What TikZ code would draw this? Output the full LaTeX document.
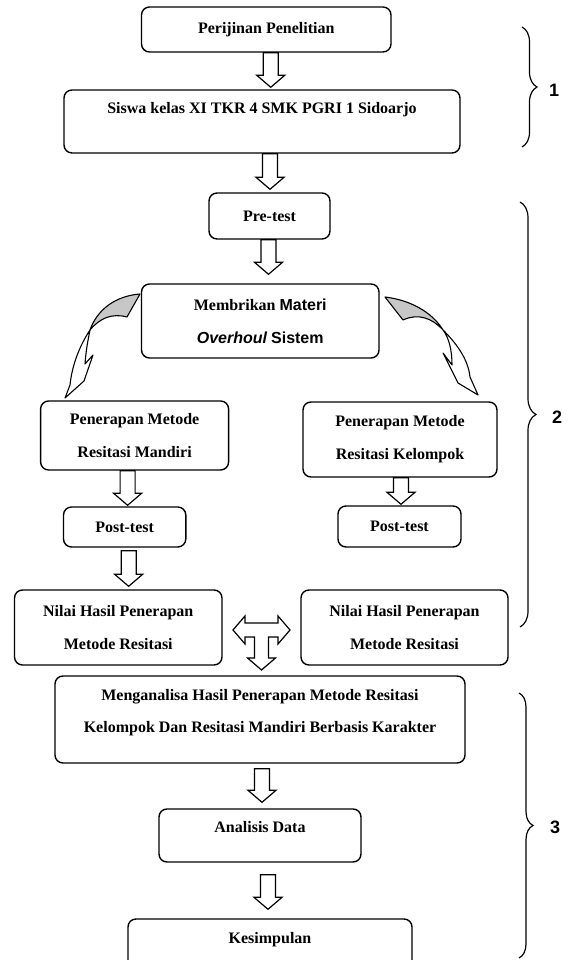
\documentclass[tikz,border=0pt]{standalone}
\usepackage{fontspec}
\setmainfont{Liberation Serif}
\newfontfamily\arialf{Liberation Sans}
\usetikzlibrary{calc,decorations.pathreplacing}
\tikzset{
  box/.style={draw, line width=1.4pt, rounded corners=8pt, inner sep=0pt, align=center,
    fill=white, font=\fontsize{16}{33}\selectfont\bfseries},
  wh/.style 2 args={minimum width=#1pt, minimum height=#2pt},
  lbl/.style={font=\fontsize{16}{32}\selectfont\bfseries, align=center, inner sep=0pt},
  barrow/.style={draw, line width=1.2pt, fill=white, line join=miter},
  curvwhite/.style={draw, line width=1.1pt, fill=white, line join=round},
  curvgray/.style={draw, line width=1.1pt, fill=black!22, line join=round},
  bracestyle/.style={draw, line width=1.2pt, decorate, decoration={brace, amplitude=#1pt, aspect=0.5}},
  numlbl/.style={font=\arialf\bfseries\fontsize{18}{18}\selectfont, inner sep=0pt}
}
\newcommand\blockarrow[2]{%
  \draw[barrow] ($#1+(-7.5,0)$) -- ($#2+(-7.5,12)$) -- ($#2+(-14,12)$) -- #2
    -- ($#2+(14,12)$) -- ($#2+(7.5,12)$) -- ($#1+(7.5,0)$) -- cycle;}
\begin{document}
\begin{tikzpicture}[x=1pt,y=1pt]
\useasboundingbox (0,0) rectangle (569,960);
\fill[white] (0,0) rectangle (569,960);
\clip (0,0) rectangle (569,960);

% boxes
\node[box, wh={249.5}{45}] (perij) at (266.25,930.5) {Perijinan Penelitian};
\node[box, wh={396}{63}, label={[lbl, anchor=north, yshift=-13pt]north:Siswa kelas XI TKR 4 SMK PGRI 1 Sidoarjo}] (siswa) at (262,838.5) {};
\node[box, wh={121}{46}] (pre) at (269.5,744) {Pre-test};
\node[box, wh={237.5}{74}] (memb) at (260.25,639) {Membrikan {\arialf Materi}\\{\arialf\itshape Overhoul} {\arialf Sistem}};
\node[box, wh={188}{69}] (mand) at (134.6,524.5) {Penerapan Metode\\Resitasi Mandiri};
\node[box, wh={194}{75}] (kel) at (400,520.5) {Penerapan Metode\\Resitasi Kelompok};
\node[box, wh={122.3}{40}] (postL) at (124.65,433) {Post-test};
\node[box, wh={123}{41}] (postR) at (399.5,433.5) {Post-test};
\node[box, wh={207.5}{75}] (nilL) at (118.25,332.5) {Nilai Hasil Penerapan\\Metode Resitasi};
\node[box, wh={207}{75}] (nilR) at (404.5,332.5) {Nilai Hasil Penerapan\\Metode Resitasi};
\node[box, wh={410}{87}, label={[lbl, anchor=north, yshift=-13.5pt]north:{Menganalisa Hasil Penerapan Metode Resitasi\\Kelompok Dan Resitasi Mandiri Berbasis Karakter}}] (meng) at (260,240.5) {};
\node[box, wh={202}{53}, label={[lbl, anchor=north, yshift=-12.5pt]north:Analisis Data}] (anal) at (260,124.5) {};
\node[box, wh={284}{56}, label={[lbl, anchor=north, yshift=-13.5pt]north:Kesimpulan}] (kes) at (270,13) {};

% straight block arrows
\coordinate (a1s) at ([xshift=4.5pt]perij.south);
\coordinate (a1t) at ($(a1s |- siswa.north)+(0,2)$);
\blockarrow{(a1s)}{(a1t)}
\coordinate (a2s) at ([xshift=8pt]siswa.south);
\coordinate (a2t) at ($(a2s |- pre.north)+(0,3)$);
\blockarrow{(a2s)}{(a2t)}
\coordinate (a3s) at ([xshift=-1pt]pre.south);
\coordinate (a3t) at ($(a3s |- memb.north)+(0,9)$);
\blockarrow{(a3s)}{(a3t)}
\coordinate (a4s) at ([xshift=-7pt]mand.south);
\coordinate (a4t) at ($(a4s |- postL.north)+(0,1)$);
\blockarrow{(a4s)}{(a4t)}
\coordinate (a5s) at ([xshift=1pt]kel.south);
\coordinate (a5t) at ($(a5s |- postR.north)+(0,1)$);
\blockarrow{(a5s)}{(a5t)}
\coordinate (a6s) at ([xshift=4pt,yshift=-3pt]postL.south);
\coordinate (a6t) at ($(a6s |- nilL.north)+(0,3)$);
\blockarrow{(a6s)}{(a6t)}
\coordinate (a7s) at ([xshift=2pt,yshift=-5pt]meng.south);
\coordinate (a7t) at ($(a7s |- anal.north)+(0,6)$);
\blockarrow{(a7s)}{(a7t)}
\coordinate (a8s) at ([xshift=8pt,yshift=-12pt]anal.south);
\coordinate (a8t) at ($(a8s |- kes.north)+(0,9)$);
\blockarrow{(a8s)}{(a8t)}

% T-shaped arrow between the two result boxes and the analysis box
\coordinate (tc) at ($(nilL.east)!0.5!(nilR.west)+(0,-2.5)$);
\draw[barrow, shift={(tc)}] (-28.5,0) -- (-16.5,14) -- (-16.5,7) -- (16.5,7) -- (16.5,14)
  -- (28.5,0) -- (16.5,-14) -- (16.5,-7) -- (7,-7) -- (7,-28) -- (14,-28) -- (0,-40)
  -- (-14,-28) -- (-7,-28) -- (-7,-7) -- (-16.5,-7) -- (-16.5,-14) -- cycle;

% curved arrow, right
\draw[curvgray] (385,663) .. controls (410,660) and (432,648) .. (443,630)
  .. controls (432,642) and (418,647) .. (403,640) -- cycle;
\draw[curvwhite] (443,630) .. controls (455,618) and (468,602) .. (470,583) -- (478,565)
  -- (458,577) -- (443,607) -- (452,595) .. controls (452,610) and (449,622) .. (443,630) -- cycle;
% curved arrow, left
\draw[curvgray] (140,666) .. controls (115,664) and (97,650) .. (90,630)
  .. controls (100,642) and (112,647) .. (127,643) -- cycle;
\draw[curvwhite] (90,630) .. controls (80,615) and (72,595) .. (70,575) -- (65,562)
  -- (84,579) -- (93,605) -- (85,596) .. controls (86,610) and (88,620) .. (90,630) -- cycle;

% braces
\draw[bracestyle=15] (522,933) -- (522,813);
\node[numlbl] (n1) at (554,870) {1};
\draw[bracestyle=16] (520,758) -- (520,333);
\node[numlbl] (n2) at (557,543) {2};
\draw[bracestyle=14] (519,267) -- (519,2);
\node[numlbl] (n3) at (555,133) {3};
\end{tikzpicture}
\end{document}
